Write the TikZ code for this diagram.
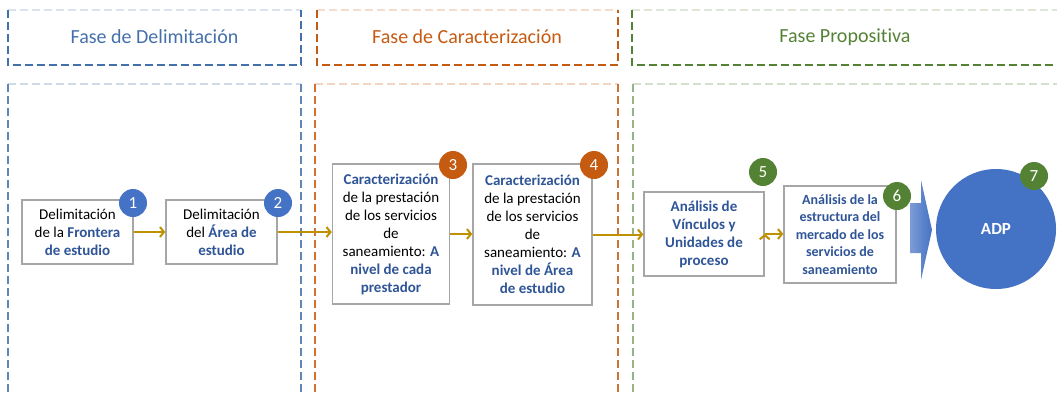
\documentclass[tikz,border=0pt]{standalone}
\usepackage{fontspec}
\setmainfont{Carlito}[Ligatures=NoCommon]
\usepackage{tikz}
\usetikzlibrary{positioning,arrows.meta}

\definecolor{circblue}{HTML}{4472C4}
\definecolor{circorange}{HTML}{C55A11}
\definecolor{circgreen}{HTML}{548235}
\definecolor{txtblue}{HTML}{2F5597}
\definecolor{delblue}{HTML}{4470AA}
\definecolor{gold}{HTML}{BF9000}
\definecolor{boxgray}{HTML}{A6A6A6}

\newcommand{\kw}[1]{\textbf{\color{txtblue}#1}}

\begin{document}
\begin{tikzpicture}[x=1pt,y=-1pt]
\tikzstyle{stage}=[rectangle, draw=boxgray, line width=1.5pt, fill=white, align=center, inner sep=0pt, font=\fontsize{15}{18}\selectfont]
\tikzstyle{num}=[circle, text=white, minimum size=28pt, inner sep=0pt, font=\fontsize{17}{17}\selectfont]
\tikzstyle{connect}=[-{Straight Barb[length=4pt,width=10pt]}, line width=2pt, draw=gold]
\tikzstyle{phase}=[dash pattern=on 8pt off 4pt, line width=1.3pt]
\tikzstyle{title}=[font=\fontsize{20}{20}\selectfont]

\useasboundingbox (0,0) rectangle (1057,392);

	% phase frames
	\draw[phase, draw=delblue!20] (8,10) -- (301,10);
	\draw[phase, draw=delblue] (8,10) -- (8,65) -- (301,65) -- (301,10);
	\draw[phase, draw=delblue!25] (8,84) -- (301,84);
	\draw[phase, draw=delblue!85] (8,84) -- (8,400) (301,84) -- (301,400);

	\draw[phase, draw=circorange!20] (317,10) -- (618,10);
	\draw[phase, draw=circorange] (317,10) -- (317,65) -- (618,65) -- (618,10);
	\draw[phase, draw=circorange!25] (315,84) -- (618,84);
	\draw[phase, draw=circorange!85] (315,84) -- (315,400) (618,84) -- (618,400);

	\draw[phase, draw=circgreen!20] (632,10) -- (1065,10);
	\draw[phase, draw=circgreen] (632,10) -- (632,65) -- (1065,65);
	\draw[phase, draw=circgreen!25] (633,84) -- (1065,84);
	\draw[phase, draw=circgreen!60] (633,84) -- (633,400);

	\node[title, text=delblue] (t_1) at (154.5,37) {Fase de Delimitación};
	\node[title, text=circorange] (t_2) at (467,37) {Fase de Caracterización};
	\node[title, text=circgreen] (t_3) at (845,37) {Fase Propositiva};

	% steps
	\node[stage, minimum width=111pt, minimum height=64pt] (b_1) at (77.5,232) {Delimitación\\de la \kw{Frontera}\\\kw{de estudio}};
	\node[stage, minimum width=111pt, minimum height=64pt] (b_2) at (221.5,232) {Delimitación\\del \kw{Área de}\\\kw{estudio}};
	\node[stage, minimum width=117pt, minimum height=140pt] (b_3) at (391,234) {\kw{Caracterización}\\de la prestación\\de los servicios\\de\\saneamiento: \kw{A}\\\kw{nivel de cada}\\\kw{prestador}};
	\node[stage, minimum width=119pt, minimum height=141pt] (b_4) at (532.5,234.5) {\kw{Caracterización}\\de la prestación\\de los servicios\\de\\saneamiento: \kw{A}\\\kw{nivel de Área}\\\kw{de estudio}};
	\node[stage, minimum width=120pt, minimum height=84pt] (b_5) at (704,234) {\kw{Análisis de}\\\kw{Vínculos y}\\\kw{Unidades de}\\\kw{proceso}};
	\node[stage, minimum width=112pt, minimum height=97pt, font=\fontsize{14}{17.4}\selectfont] (b_6) at (840,234.5) {\kw{Análisis de la}\\\kw{estructura del}\\\kw{mercado de los}\\\kw{servicios de}\\\kw{saneamiento}};

	\shade[left color=circblue!70, right color=circblue] (910,203) -- (921,203) -- (921,180) -- (932,230) -- (921,280) -- (921,253) -- (910,253) -- cycle;
	\node[circle, fill=circblue, minimum size=120pt, inner sep=0pt, text=white, font=\fontsize{17}{17}\selectfont\bfseries] (adp) at (996,229) {ADP};

	% numbers
	\node[num, fill=circblue] (n_1) at (133,203) {1};
	\node[num, fill=circblue] (n_2) at (278,203) {2};
	\node[num, fill=circorange] (n_3) at (453,165) {3};
	\node[num, fill=circorange] (n_4) at (594,165) {4};
	\node[num, fill=circgreen] (n_5) at (763,172) {5};
	\node[num, fill=circgreen] (n_6) at (897,196) {6};
	\node[num, fill=circgreen] (n_7) at (1034,176) {7};

	\path[connect]
	 (b_1.east) edge (b_1.east -| b_2.west)
	 (b_2.east) edge (b_2.east -| b_3.west)
	 (b_3.east) edge (b_3.east -| b_4.west)
	 (b_4.east) edge (b_4.east -| b_5.west)
	 (b_5.east) edge (b_5.east -| b_6.west);

\end{tikzpicture}
\end{document}
